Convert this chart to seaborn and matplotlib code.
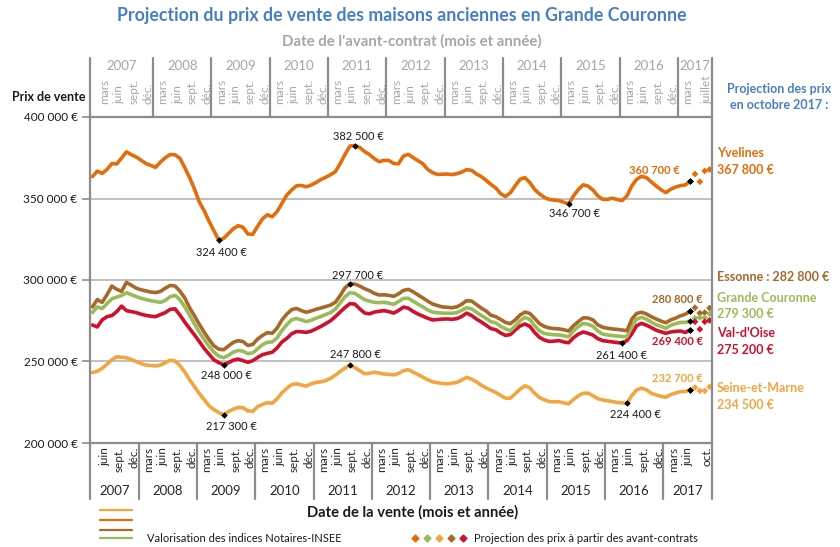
import numpy as np
import pandas as pd
import matplotlib
matplotlib.use("Agg")
import matplotlib.pyplot as plt
import matplotlib.transforms as mtransforms
from matplotlib.lines import Line2D
from matplotlib.ticker import FuncFormatter
import seaborn as sns

# 1. Data: monthly sale prices, March 2007 -> June 2017 (Notaires-INSEE),
#    then projection July -> October 2017 (avant-contrats)
mois_vente = pd.period_range("2007-03", "2017-10", freq="M")

yvelines = [
    363400, 366800, 365400, 367800, 371400, 371200, 374800, 378600, 376900, 375500,
    373500, 371500, 370300, 369100, 372400, 375000, 377000, 376800, 374700, 369000,
    362800, 355800, 347800, 342500, 336000, 330200, 324400, 325500, 328500, 331500,
    333300, 332300, 328200, 328000, 333000, 337500, 340000, 338800, 342000, 347000,
    352100, 355200, 357800, 358000, 357200, 358200, 359800, 361600, 363000, 364600,
    366500, 371500, 377200, 382200, 382500, 381300, 378800, 377000, 374500, 372600,
    373400, 373300, 371500, 371300, 376100, 377100, 375100, 373200, 371300, 367800,
    365900, 364800, 364900, 365000, 364700, 365200, 366200, 367700, 367300, 365100,
    363500, 361200, 358600, 356500, 353000, 351200, 353500, 357800, 361800, 362800,
    359800, 355600, 352800, 350700, 349400, 349000, 348700, 347700, 346700, 351600,
    355500, 358400, 357600, 355200, 351600, 349500, 349500, 350200, 349400, 348700,
    351600, 357800, 361800, 363600, 362800, 360200, 357700, 355400, 353600, 355700,
    357000, 357900, 358300, 360700,
]
essonne = [
    283500, 288000, 286300, 291000, 296300, 294300, 293000, 298500, 296800, 295000,
    294000, 293300, 292600, 292300, 293000, 295000, 296700, 296300, 293200, 289000,
    283000, 278000, 272800, 268000, 263500, 259600, 257600, 257200, 259500, 261800,
    262800, 262200, 259800, 260500, 263800, 266000, 267700, 267300, 270500, 275500,
    279100, 281800, 282600, 281200, 280200, 281000, 282000, 282800, 283700, 284600,
    286400, 290500, 295300, 297700, 297500, 296300, 294700, 293500, 291800, 290800,
    290900, 290600, 290000, 291500, 293600, 294300, 292800, 290800, 289000, 287000,
    285300, 284300, 283500, 283200, 283000, 283500, 285200, 287300, 287100, 285000,
    282800, 281000, 278400, 277500, 275800, 274000, 273200, 275500, 278500, 280300,
    279500, 276500, 273200, 271500, 270600, 270200, 270000, 269500, 268700, 272000,
    274500, 276800, 276700, 275500, 272500, 271000, 270400, 270000, 269700, 269300,
    268900, 276000, 279500, 280200, 279200, 277500, 276100, 274800, 273800, 275500,
    276600, 278000, 279000, 280800,
]
grande_couronne = [
    280000, 283500, 282500, 285500, 288500, 289500, 290500, 292200, 291000, 289800,
    288800, 288000, 287300, 286800, 286300, 287500, 289800, 290500, 288000, 283500,
    278300, 273000, 268000, 263500, 259300, 255800, 253300, 252300, 253800, 255800,
    256800, 256300, 254800, 255300, 257800, 260300, 261800, 262000, 264500, 269000,
    272600, 275600, 276400, 275500, 274500, 275300, 276500, 277600, 278800, 280000,
    282200, 286000, 289800, 292200, 291800, 289800, 288000, 287000, 286300, 286100,
    286300, 285800, 285000, 286800, 288700, 288800, 287000, 285200, 283500, 281600,
    280300, 279900, 279700, 279600, 279600, 280000, 281400, 283000, 282300, 280300,
    278300, 276500, 274400, 273700, 271600, 270000, 268900, 271800, 275000, 277100,
    275800, 272000, 268800, 267200, 266700, 266400, 266300, 265800, 265200, 268800,
    271400, 273400, 272800, 271600, 268700, 266800, 266300, 265900, 265600, 265300,
    265200, 271700, 276000, 277100, 276000, 274200, 272600, 271600, 270400, 272200,
    273200, 274000, 274000, 274800,
]
val_doise = [
    272400, 271200, 275500, 277500, 278200, 280600, 284000, 281200, 280600, 280000,
    279000, 278300, 277800, 277500, 278800, 280000, 282000, 282300, 278500, 274200,
    270200, 266300, 262200, 258000, 254500, 251000, 249300, 248000, 249300, 250800,
    251500, 250500, 249500, 250500, 252500, 254200, 255000, 255700, 258300, 262000,
    264200, 267000, 268400, 268200, 267900, 268600, 270000, 271500, 273200, 275000,
    277600, 280400, 283200, 285500, 285200, 282300, 279800, 279200, 280300, 280800,
    281200, 280600, 279700, 281300, 283400, 282700, 280700, 279100, 277800, 276500,
    275500, 275700, 276000, 276100, 275900, 276300, 277600, 279700, 278300, 276100,
    274300, 272300, 270200, 269500, 267500, 266000, 266500, 269300, 271800, 273000,
    271600, 267800, 264800, 263200, 262300, 262500, 262800, 262000, 261500, 264600,
    266800, 268100, 267300, 266200, 264000, 262800, 262400, 262000, 261600, 261400,
    262800, 267000, 272000, 273400, 272300, 270800, 269200, 268200, 267300, 268100,
    268500, 268700, 267800, 269400,
]
seine_et_marne = [
    243200, 244000, 245800, 248300, 251000, 252900, 252600, 252300, 251200, 250000,
    248700, 247900, 247500, 247300, 247800, 249300, 250800, 250300, 247600, 243500,
    238800, 234500, 230300, 226600, 222800, 220500, 218700, 217300, 219300, 220800,
    221900, 221600, 219700, 219400, 222300, 223700, 224700, 224400, 227100, 230800,
    233600, 235800, 236300, 235600, 234900, 236300, 237200, 237500, 238300, 239700,
    241600, 243900, 246000, 247800, 246300, 244400, 242500, 242800, 243400, 242900,
    242300, 242100, 241800, 242700, 244300, 245000, 243500, 242000, 240400, 238800,
    237500, 237000, 236500, 236300, 236700, 237200, 238600, 240300, 239200, 237600,
    235500, 233800, 232400, 231000, 229200, 227500, 227500, 230200, 233000, 235100,
    233800, 230500, 227900, 226500, 225400, 225300, 225300, 224600, 224000, 226700,
    229000, 230500, 230600, 229000, 227200, 226400, 225900, 225400, 224900, 224600,
    224400, 229200, 232600, 233600, 232700, 230500, 229500, 228600, 228100, 229700,
    230700, 231500, 231600, 232700,
]

# projection July -> October 2017
proj_yvelines = [365000, 360300, 366900, 367800]
proj_essonne = [283000, 279700, 280000, 282800]
proj_grande_couronne = [276500, 277000, 276800, 279300]
proj_val_doise = [274400, 269800, 274400, 275200]
proj_seine_et_marne = [234000, 232000, 232000, 234500]

zones = ["Seine-et-Marne", "Val-d'Oise", "Grande Couronne", "Essonne", "Yvelines"]
couleurs = {
    "Yvelines": "#E46C0A",
    "Essonne": "#A8682A",
    "Grande Couronne": "#9BBB59",
    "Val-d'Oise": "#D0102C",
    "Seine-et-Marne": "#F2A541",
}

# labelled points: (zone, month, text, dx, dy in px, coloured/bold)
annotations = [
    ("Yvelines", "2009-05", "324 400 €", 3, -12, False),
    ("Yvelines", "2011-09", "382 500 €", 4, 9, False),
    ("Yvelines", "2015-05", "346 700 €", 6, -10, False),
    ("Yvelines", "2017-06", "360 700 €", -36, 11, True),
    ("Essonne", "2011-08", "297 700 €", 8, 8, False),
    ("Essonne", "2017-06", "280 800 €", -13, 12, True),
    ("Val-d'Oise", "2009-06", "248 000 €", 3, -11, False),
    ("Val-d'Oise", "2016-04", "261 400 €", -1, -13, False),
    ("Val-d'Oise", "2017-06", "269 400 €", -13, -12, True),
    ("Seine-et-Marne", "2009-06", "217 300 €", 8, -12, False),
    ("Seine-et-Marne", "2011-08", "247 800 €", 6, 11, False),
    ("Seine-et-Marne", "2016-05", "224 400 €", 9, -11, False),
    ("Seine-et-Marne", "2017-06", "232 700 €", -13, 11, True),
]

# right-hand projection texts: (text, y px, zone)
cotes = [
    ("Yvelines", 153, "Yvelines"),
    ("367 800 €", 170, "Yvelines"),
    ("Essonne : 282 800 €", 277, "Essonne"),
    ("Grande Couronne", 298, "Grande Couronne"),
    ("279 300 €", 314, "Grande Couronne"),
    ("Val-d'Oise", 333, "Val-d'Oise"),
    ("275 200 €", 350, "Val-d'Oise"),
    ("Seine-et-Marne", 388, "Seine-et-Marne"),
    ("234 500 €", 405, "Seine-et-Marne"),
]

mois_noms = {3: "mars", 6: "juin", 9: "sept.", 12: "déc."}

# 2. Tidy frames
n_obs = len(yvelines)
obs = pd.DataFrame({
    "Yvelines": yvelines,
    "Essonne": essonne,
    "Grande Couronne": grande_couronne,
    "Val-d'Oise": val_doise,
    "Seine-et-Marne": seine_et_marne,
})
obs["mois"] = np.arange(n_obs)
obs_long = obs.melt(id_vars="mois", var_name="zone", value_name="prix")

proj = pd.DataFrame({
    "Yvelines": proj_yvelines,
    "Essonne": proj_essonne,
    "Grande Couronne": proj_grande_couronne,
    "Val-d'Oise": proj_val_doise,
    "Seine-et-Marne": proj_seine_et_marne,
})
proj["mois"] = np.arange(n_obs, n_obs + len(proj_yvelines))
proj_long = proj.melt(id_vars="mois", var_name="zone", value_name="prix")

# 3. Plot
sns.set_theme(style="white")
plt.rcParams["font.family"] = ["Lato", "DejaVu Sans"]

fig = plt.figure(figsize=(8.4, 5.47), dpi=100)
ax = fig.add_axes([90 / 840, 1 - 443 / 547, 622 / 840, 326 / 547])

sns.lineplot(data=obs_long, x="mois", y="prix", hue="zone", hue_order=zones,
             palette=couleurs, linewidth=2.6, legend=False, ax=ax)
sns.scatterplot(data=proj_long, x="mois", y="prix", hue="zone", hue_order=zones,
                palette=couleurs, marker="D", s=12, linewidth=0, legend=False, ax=ax)

# black markers on the last observed value of every zone
derniers = obs_long[obs_long["mois"] == n_obs - 1]
ax.scatter(derniers["mois"], derniers["prix"], marker="D", s=11, linewidths=0,
           color="black", zorder=5)

for zone, mois, texte, dx, dy, colore in annotations:
    i = mois_vente.get_loc(pd.Period(mois, freq="M"))
    v = obs.loc[i, zone]
    ax.scatter([i], [v], marker="D", s=11, linewidths=0, color="black", zorder=5)
    ax.annotate(texte, (i, v), xytext=(dx, dy), textcoords="offset pixels",
                ha="center", va="center", fontsize=8,
                color=couleurs[zone] if colore else "#1a1a1a",
                fontweight="bold" if colore else "normal")

ax.set_xlim(-0.5, len(mois_vente) - 0.5)
ax.set_ylim(200000, 400000)
ax.set_yticks(np.arange(200000, 400001, 50000))
ax.yaxis.set_major_formatter(FuncFormatter(lambda v, p: f"{v:,.0f} €".replace(",", " ")))
ax.tick_params(axis="y", length=6, width=1.2, color="#8c8c8c", labelsize=8.5,
               labelcolor="#1a1a1a", pad=3, left=True)
ax.set_xticks([])
ax.set_xlabel("")
ax.set_ylabel("")
ax.grid(axis="y", color="#c0c0c0", linewidth=1.4)
for s in ax.spines.values():
    s.set_color("#8c8c8c")
    s.set_linewidth(1.6)

# 4. Category axes (sale date below, avant-contrat date above)
trans = mtransforms.blended_transform_factory(ax.transData, ax.transAxes)
annees = range(2007, 2018)

for m_i, p in enumerate(mois_vente):
    lab = mois_noms.get(p.month)
    if p.year == 2017:
        lab = {3: "mars", 6: "juin", 10: "oct."}.get(p.month)
    if lab and m_i > 0:
        ax.text(m_i - 0.5, -0.012, lab, transform=trans, rotation=90, ha="center",
                va="top", fontsize=8.5, color="#262626", clip_on=False)
    # avant-contrat = 3 months before sale
    c = p - 3
    lab = mois_noms.get(c.month)
    if c.year == 2017:
        lab = {3: "mars", 7: "juillet"}.get(c.month)
    if lab and m_i >= 3:
        ax.text(m_i - 0.5, 1.04, lab, transform=trans, rotation=90, ha="center",
                va="bottom", fontsize=8.5, color="#a6a6a6", clip_on=False)

bords_bas = [-0.5] + [mois_vente.get_loc(pd.Period(f"{a}-01", freq="M")) - 0.5
                      for a in annees[1:]] + [len(mois_vente) - 0.5]
bords_haut = [-0.5] + [mois_vente.get_loc(pd.Period(f"{a}-04", freq="M")) - 0.5
                       for a in annees[1:]] + [len(mois_vente) - 0.5]
for k, a in enumerate(annees):
    ax.text((bords_bas[k] + bords_bas[k + 1]) / 2, -0.147, str(a), transform=trans,
            ha="center", va="center", fontsize=9.5, color="#262626")
    ax.text((bords_haut[k] + bords_haut[k + 1]) / 2, 1.156, str(a), transform=trans,
            ha="center", va="center", fontsize=9.5, color="#a6a6a6")
for b in bords_bas:
    ax.add_line(Line2D([b, b], [0, -0.172], transform=trans, color="#8c8c8c",
                       linewidth=1.6, clip_on=False))
for b in bords_haut:
    ax.add_line(Line2D([b, b], [1, 1.181], transform=trans, color="#8c8c8c",
                       linewidth=1.6, clip_on=False))

# 5. Titles and side texts
bleu = "#4A7EC4"
fig.text(402 / 840, 1 - 16 / 547, "Projection du prix de vente des maisons anciennes en Grande Couronne",
         ha="center", va="center", fontsize=12.8, fontweight="bold", color=bleu)
fig.text(412 / 840, 1 - 41 / 547, "Date de l'avant-contrat (mois et année)",
         ha="center", va="center", fontsize=10.8, fontweight="bold", color="#a6a6a6")
fig.text(12 / 840, 1 - 97 / 547, "Prix de vente", ha="left", va="center",
         fontsize=9, fontweight="bold", color="#1a1a1a")
fig.text(413 / 840, 1 - 512 / 547, "Date de la vente (mois et année)", ha="center",
         va="center", fontsize=10.6, fontweight="bold", color="#1a1a1a")
fig.text(779 / 840, 1 - 97 / 547, "Projection des prix\nen octobre 2017 :", ha="center",
         va="center", fontsize=9, fontweight="bold", color=bleu, linespacing=1.45)

for texte, y, zone in cotes:
    fig.text(717 / 840, 1 - y / 547, texte, ha="left", va="center", fontsize=9,
             fontweight="bold", color=couleurs[zone])

# 6. Bottom legend
for zone, y in [("Seine-et-Marne", 510), ("Yvelines", 520), ("Essonne", 530),
                ("Grande Couronne", 538)]:
    fig.add_artist(Line2D([100 / 840, 132 / 840], [1 - y / 547, 1 - y / 547],
                          transform=fig.transFigure, color=couleurs[zone], linewidth=1.6))
fig.text(147 / 840, 1 - 538 / 547, "Valorisation des indices Notaires-INSEE",
         ha="left", va="center", fontsize=8, color="#1a1a1a")
for k, zone in enumerate(["Yvelines", "Grande Couronne", "Seine-et-Marne", "Essonne", "Val-d'Oise"]):
    fig.add_artist(Line2D([(415 + 12 * k) / 840], [1 - 538 / 547], transform=fig.transFigure,
                          marker="D", markersize=3.5, linestyle="none",
                          color=couleurs[zone]))
fig.text(474 / 840, 1 - 538 / 547, "Projection des prix à partir des avant-contrats",
         ha="left", va="center", fontsize=8, color="#1a1a1a")

fig.savefig("out.png", dpi=100)
